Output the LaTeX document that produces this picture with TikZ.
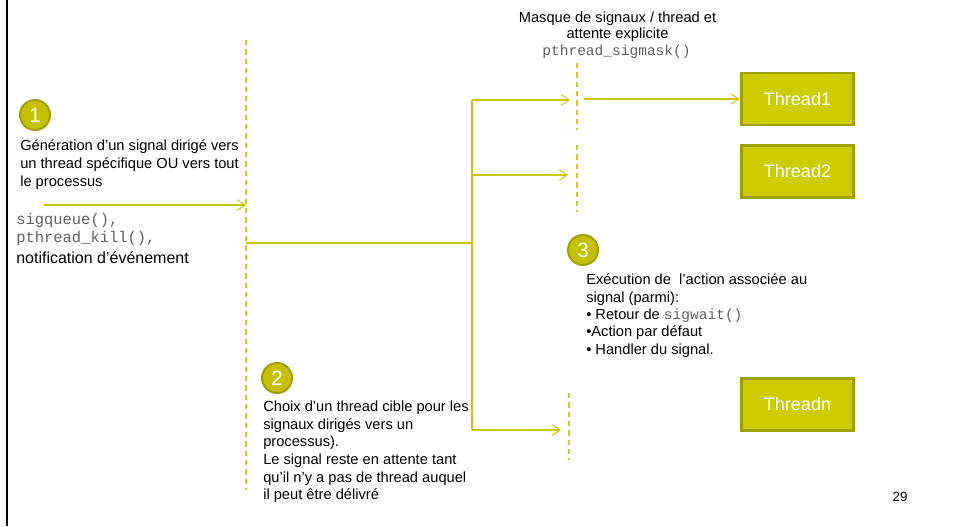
\documentclass[tikz,border=0pt]{standalone}
\usepackage{fontspec}
\setmainfont{Liberation Sans}
\setmonofont{Liberation Mono}
\usetikzlibrary{arrows.meta}
\definecolor{olivefill}{HTML}{CCCC00}
\definecolor{circfill}{HTML}{C4C200}
\definecolor{olivedark}{HTML}{A0A000}
\definecolor{linec}{HTML}{C8C800}
\definecolor{dashc}{HTML}{D4CC1A}
\definecolor{codegray}{HTML}{606060}
\begin{document}
\begin{tikzpicture}[x=0.75pt,y=-0.75pt,
  conn/.style={draw=linec, line width=0.9pt},
  arr/.style={conn, -{Straight Barb[length=6pt,width=8pt,line width=0.7pt]}},
  dashln/.style={draw=dashc, line width=0.9pt, dash pattern=on 4pt off 3pt},
  threadbox/.style={draw=olivedark, fill=olivefill, line width=2.2pt, minimum width=84.5pt, minimum height=39pt, inner sep=0pt, text=white, font=\fontsize{13.5}{16}\selectfont},
  numcirc/.style={circle, draw=olivedark, fill=circfill, line width=1.5pt, minimum size=22.5pt, inner sep=0pt, text=white, font=\fontsize{15.5}{18}\selectfont},
  bodytxt/.style={anchor=north west, inner sep=0pt, align=left, font=\fontsize{11}{13.3}\selectfont},
  codetxt/.style={anchor=base west, inner sep=0pt, text=codegray, font=\ttfamily\fontsize{11.6}{14}\selectfont},
]
\useasboundingbox (0,0) rectangle (953,526);
\fill[white] (0,0) rectangle (953,526);
% left bar
\draw[black, line width=2.2pt] (7,0) -- (7,526);

% coordinates
\coordinate (d1top) at (246,40);
\coordinate (d1bot) at (246,490);
\coordinate (m1top) at (577,63);
\coordinate (m1bot) at (577,130);
\coordinate (m2top) at (577,145);
\coordinate (m2bot) at (577,212);
\coordinate (m3top) at (569,393);
\coordinate (m3bot) at (569,460);
\coordinate (s0) at (44,205);
\coordinate (s1) at (246,205);
\coordinate (j0) at (246,243);
\coordinate (j1) at (472,243);
\coordinate (jt) at (472,100);
\coordinate (jm) at (472,175);
\coordinate (jb) at (472,430);
\coordinate (e1) at (570,100);
\coordinate (e2) at (568,175);
\coordinate (e3) at (561,430);
\coordinate (f1) at (584,99);

% dashed lifelines
\draw[dashln] (d1top) -- (d1bot);
\draw[dashln] (m1top) -- (m1bot);
\draw[dashln] (m2top) -- (m2bot);
\draw[dashln] (m3top) -- (m3bot);

% thread boxes
\node[threadbox] (t1) at (797.5,99) {Thread1};
\node[threadbox] (t2) at (797.5,171.5) {Thread2};
\node[threadbox] (tn) at (797.5,404.5) {Threadn};

% circles
\node[numcirc] (c1) at (35,115) {1};
\node[numcirc] (c2) at (277,378) {2};
\node[numcirc] (c3) at (583,250) {3};

% connectors
\draw[arr] (s0) -- (s1);
\draw[conn] (j0) -- (j1);
\draw[conn] (jt) -- (jb);
\draw[arr] (jt) -- (e1);
\draw[arr] (jm) -- (e2);
\draw[arr] (jb) -- (e3);
\draw[arr] (f1) -- (t1.west);

% texts
\node[bodytxt] (txt1) at (20,139.5) {Génération d’un signal dirigé vers\\un thread spécifique OU vers tout\\le processus};
\node[codetxt] (code1) at (16,224) {sigqueue(),};
\node[codetxt] (code2) at (16,242) {pthread\_kill(),};
\node[anchor=base west, inner sep=0pt, font=\fontsize{12}{14}\selectfont] (notif) at (16,263) {notification d’événement};

\node[anchor=base, inner sep=0pt, font=\fontsize{11}{13}\selectfont] (title1) at (617.5,22) {Masque de signaux / thread et};
\node[anchor=base, inner sep=0pt, font=\fontsize{11}{13}\selectfont] (title2) at (617.5,38.5) {attente explicite};
\node[anchor=base, inner sep=0pt, text=codegray, font=\ttfamily\fontsize{10.9}{13}\selectfont] (title3) at (616.5,55) {pthread\_sigmask()};

\node[bodytxt, font=\fontsize{11}{13.1}\selectfont] (txt3) at (586,273.5) {Exécution de \ l’action associée au\\signal (parmi):\\• Retour de {\color{codegray}\ttfamily\fontsize{10.9}{13}\selectfont sigwait()}\\•Action par défaut\\• Handler du signal.};

\node[bodytxt, font=\fontsize{11}{13.15}\selectfont] (txt2) at (263,401) {Choix d’un thread cible pour les\\signaux dirigés vers un\\processus).\\Le signal reste en attente tant\\qu’il n’y a pas de thread auquel\\il peut être délivré};

\node[anchor=base, inner sep=0pt, font=\fontsize{10}{12}\selectfont] (pg) at (900,501) {29};
\end{tikzpicture}
\end{document}
